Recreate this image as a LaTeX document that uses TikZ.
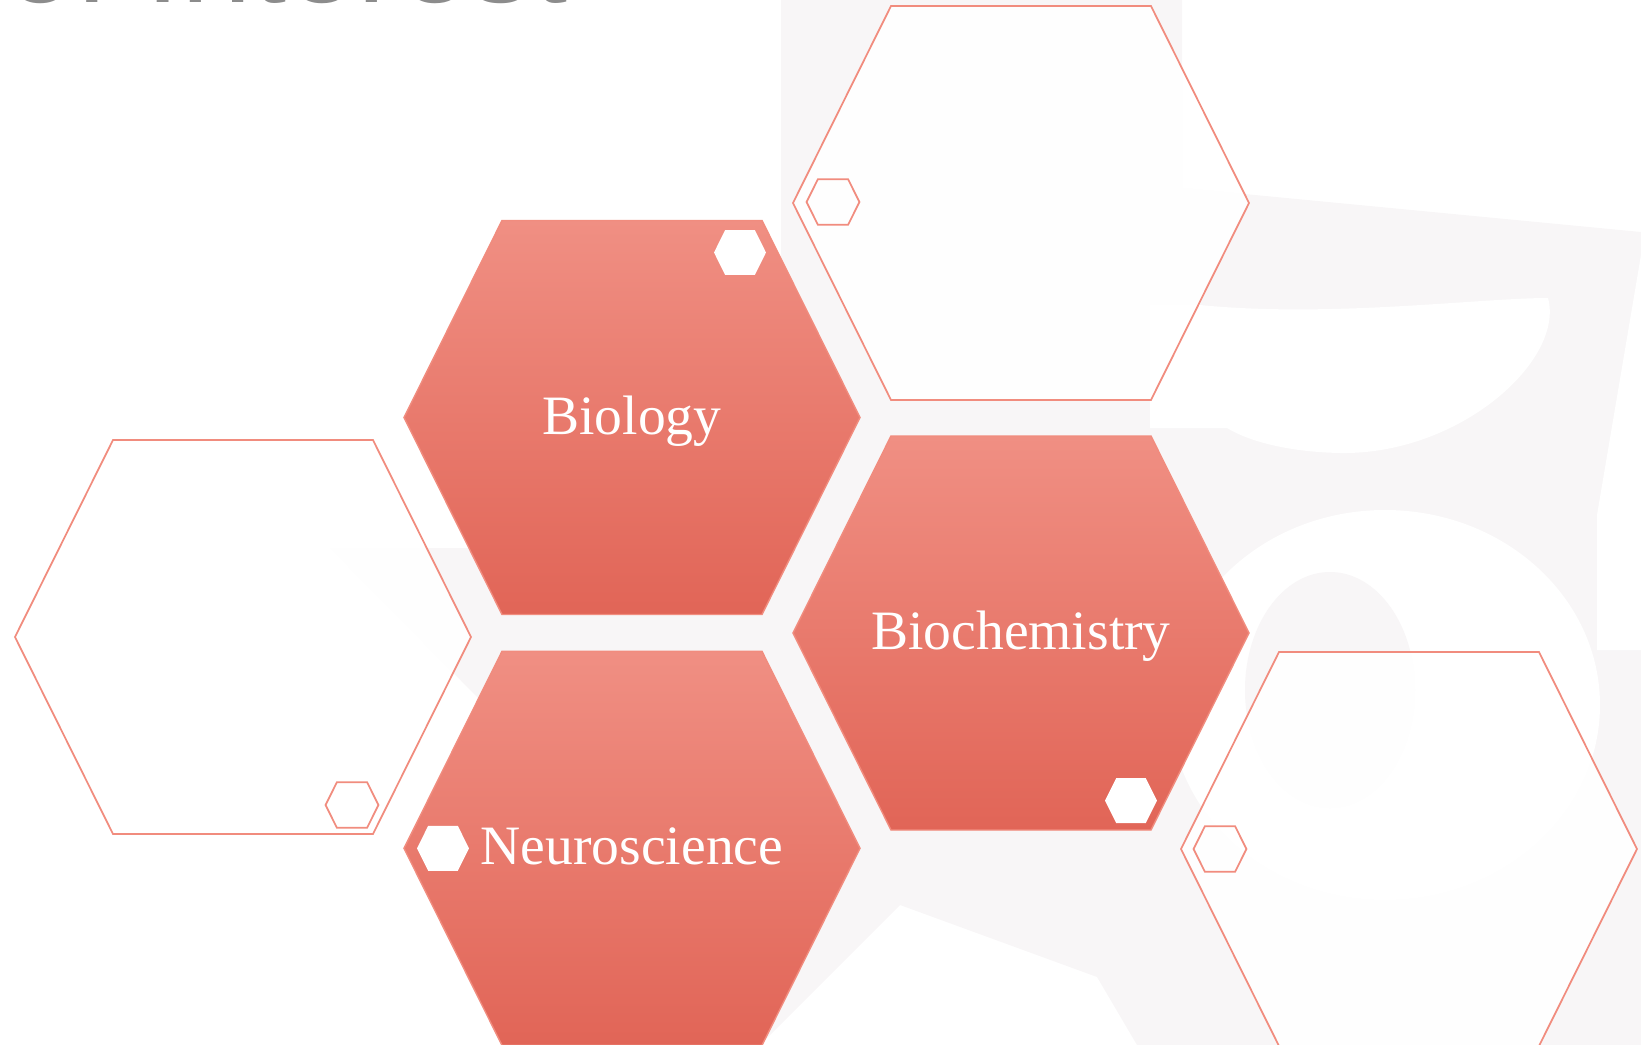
\documentclass[tikz,border=0pt]{standalone}
\usepackage{fontspec}
\setmainfont{Liberation Serif}
\newfontfamily\titlefont{Liberation Sans}

\definecolor{hexTop}{RGB}{240,143,131}
\definecolor{hexMid}{RGB}{244,124,111}
\definecolor{hexBot}{RGB}{225,101,87}
\definecolor{hexLinea}{RGB}{241,140,126}
\definecolor{marca}{RGB}{248,246,247}
\definecolor{tituloGris}{RGB}{140,140,140}

\tikzset{
  hexa/.pic={\path[pic actions] (-228,0) -- (-130,-197) -- (130,-197) -- (228,0) -- (130,197) -- (-130,197) -- cycle;},
  relleno/.style={top color=hexTop, middle color=hexMid, bottom color=hexBot, draw=hexLinea, line width=0.4pt},
  contorno/.style={draw=hexLinea, line width=0.5pt, fill=white, fill opacity=0.9},
  chico/.style={fill=white, scale=0.114},
  etiqueta/.style={text=white, font=\fontsize{15.8}{18}\selectfont, anchor=base}
}

\begin{document}
\begin{tikzpicture}[x=0.01cm, y=-0.01cm]
  \useasboundingbox (0,0) rectangle (1641,1045);
  \clip (0,0) rectangle (1641,1045);

  % Marca de agua
  \fill[marca] (781,0) -- (1182,0) -- (1182,188) -- (1641,232) -- (1641,1045) -- (1137,1045)
    -- (1097,977) -- (900,905) -- (760,1045) -- (600,1045) -- (480,700) -- (330,548) -- (781,548) -- cycle;
  \fill[white] (1150,305) -- (1200,305) .. controls (1330,318) and (1480,298) .. (1548,298)
    .. controls (1565,360) and (1460,455) .. (1340,453) .. controls (1290,452) and (1250,442) .. (1227,428) -- (1150,428) -- cycle;
  \fill[white] (1641,255) -- (1597,515) -- (1597,650) -- (1641,650) -- cycle;
  \fill[white] (1385,705) ellipse [x radius=215, y radius=195];
  \fill[marca] (1330,690) ellipse [x radius=85, y radius=118];

  % Titulo (cortado)
  \node[anchor=base east, text=tituloGris, font=\titlefont\fontsize{36}{40}\selectfont, inner sep=0pt]
    (titulo) at (569,2.5) {Areas of Interest};

  % Hexagonos vacios
  \pic[contorno] at (243,637) {hexa};
  \pic[contorno] at (1021,203) {hexa};
  \pic[contorno] at (1409,849) {hexa};

  % Hexagonos con texto
  \pic[relleno] at (632,417.5) {hexa};
  \pic[relleno] at (632,848.3) {hexa};
  \pic[relleno] at (1021,633) {hexa};

  % Hexagonos chicos
  \pic[chico] at (740,252.5) {hexa};
  \pic[chico] at (443,848.3) {hexa};
  \pic[chico] at (1131,800.6) {hexa};
  \pic[contorno, scale=0.116] at (833,202) {hexa};
  \pic[contorno, scale=0.116] at (352,805) {hexa};
  \pic[contorno, scale=0.116] at (1220,849) {hexa};

  % Etiquetas
  \node[etiqueta] (bio) at (632,434) {Biology};
  \node[etiqueta] (neuro) at (632,864.5) {Neuroscience};
  \node[etiqueta] (bioquim) at (1021,649) {Biochemistry};
\end{tikzpicture}
\end{document}
